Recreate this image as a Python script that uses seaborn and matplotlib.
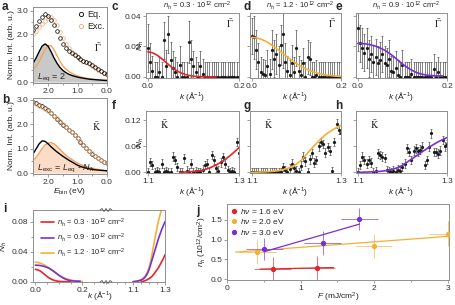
import numpy as np
import matplotlib
matplotlib.use("Agg")
import matplotlib.pyplot as plt
import seaborn as sns
from matplotlib.lines import Line2D
from matplotlib.colors import to_rgb
from matplotlib.ticker import MultipleLocator, FormatStrFormatter

# colours
RED = "#e3262b"
ORANGE = "#f2b134"
PURPLE = "#7a2fd4"
EXC = "#f0a86c"
EXC_LINE = "#f0a45c"
GREY_FILL = "#c9c9c9"
PEACH_FILL = "#fbdcc6"
SPINE = "#8f8f8f"

# ---- a / b : spectra, E_bin from 2.6 to 0.0 eV in 0.1 steps ----
e_bin = np.linspace(2.6, 0.0, 27)
a_eq = [2.05, 2.20, 2.35, 2.55, 2.72, 2.85, 2.78, 2.60, 2.40, 2.15, 1.85, 1.60, 1.42, 1.30,
        1.20, 1.12, 1.05, 0.97, 0.90, 0.84, 0.78, 0.70, 0.62, 0.55, 0.47, 0.40, 0.32]
a_exc = [1.90, 2.00, 2.15, 2.30, 2.45, 2.58, 2.70, 2.73, 2.60, 2.38, 2.10, 1.85, 1.60, 1.42,
         1.28, 1.16, 1.07, 0.98, 0.90, 0.83, 0.76, 0.68, 0.60, 0.52, 0.45, 0.38, 0.30]
a_fit_eq = [0.62, 0.80, 1.02, 1.28, 1.51, 1.60, 1.51, 1.28, 1.02, 0.80, 0.62, 0.49, 0.40, 0.33,
            0.28, 0.24, 0.21, 0.18, 0.16, 0.14, 0.12, 0.11, 0.10, 0.09, 0.08, 0.07, 0.065]
a_fit_exc = [0.43, 0.54, 0.68, 0.88, 1.12, 1.36, 1.53, 1.53, 1.36, 1.12, 0.88, 0.68, 0.55, 0.45,
             0.37, 0.31, 0.26, 0.22, 0.19, 0.16, 0.14, 0.12, 0.11, 0.095, 0.085, 0.075, 0.07]
b_eq = [2.98, 2.93, 2.87, 2.81, 2.75, 2.68, 2.58, 2.47, 2.35, 2.23, 2.10, 1.98, 1.87, 1.77,
        1.67, 1.56, 1.43, 1.29, 1.14, 1.01, 0.90, 0.79, 0.70, 0.61, 0.53, 0.47, 0.41]
b_exc = [2.93, 2.87, 2.82, 2.76, 2.70, 2.63, 2.55, 2.45, 2.35, 2.24, 2.12, 2.00, 1.89, 1.78,
         1.67, 1.55, 1.42, 1.30, 1.17, 1.04, 0.92, 0.81, 0.71, 0.62, 0.54, 0.46, 0.40]
b_fit_eq = [0.62, 0.80, 1.00, 1.20, 1.32, 1.30, 1.20, 1.08, 0.97, 0.87, 0.78, 0.69, 0.61, 0.53,
            0.46, 0.39, 0.32, 0.27, 0.23, 0.20, 0.17, 0.15, 0.13, 0.12, 0.11, 0.10, 0.09]
b_fit_exc = [0.42, 0.52, 0.65, 0.82, 1.00, 1.15, 1.23, 1.25, 1.20, 1.10, 0.98, 0.85, 0.74, 0.64,
             0.56, 0.48, 0.41, 0.35, 0.30, 0.26, 0.23, 0.20, 0.17, 0.15, 0.13, 0.11, 0.10]

# ---- c-h : momentum distributions ----
k_gamma = np.linspace(0.0, 0.2, 41)
k_kbar = np.linspace(1.1, 1.3, 41)
c_vals = [0.019, 0.010, 0.004, 0.0, 0.0, 0.003, 0.0, 0.024, 0.007, 0.028,
          0.011, 0.006, 0.003, 0.0, 0.008, 0.0, 0.0, 0.0, 0.023, 0.012,
          0.007, 0.003, 0.0, 0.007, 0.002, 0.0, 0.0, 0.0, 0.0, 0.0] + [0.0] * 11
c_err = [0.016, 0.012, 0.010, 0.010, 0.010, 0.010, 0.010, 0.012, 0.011, 0.012,
         0.012, 0.011, 0.010, 0.010, 0.012, 0.010, 0.010, 0.010, 0.014, 0.012] + [0.010] * 21
d_vals = [0.027, 0.026, 0.018, 0.010, 0.003, 0.002, 0.001, 0.007, 0.002, 0.018,
          0.012, 0.015, 0.008, 0.021, 0.028, 0.010, 0.004, 0.001, 0.009, 0.003,
          0.019, 0.004, 0.001, 0.009, 0.0, 0.013, 0.012, 0.0, 0.0, 0.001] + [0.0] * 11
d_err = [0.012, 0.014, 0.013, 0.012, 0.010, 0.010, 0.010, 0.011, 0.010, 0.013,
         0.012, 0.013, 0.012, 0.013, 0.022, 0.012, 0.010, 0.010, 0.012, 0.010,
         0.012, 0.010, 0.010, 0.010, 0.010, 0.011, 0.011, 0.010, 0.010, 0.010] + [0.010] * 11
e_vals = [0.032, 0.022, 0.019, 0.016, 0.019, 0.012, 0.015, 0.010, 0.013, 0.009,
          0.011, 0.015, 0.009, 0.008, 0.012, 0.004, 0.003, 0.006, 0.001, 0.0,
          0.008, 0.0, 0.0, 0.0, 0.002, 0.0, 0.0, 0.0, 0.0, 0.0,
          0.0, 0.0, 0.0, 0.0, 0.005, 0.0, 0.003, 0.0, 0.0, 0.0, 0.0]
e_err = [0.015, 0.012, 0.013, 0.012, 0.013, 0.012, 0.012, 0.011, 0.012, 0.011,
         0.012, 0.012, 0.011, 0.011, 0.012, 0.010, 0.010, 0.011, 0.010, 0.010] + [0.010] * 21
f_vals = [0.0, 0.024, 0.017, 0.0, 0.003, 0.0, 0.020, 0.0, 0.002, 0.0,
          0.0, 0.036, 0.028, 0.012, 0.0, 0.0, 0.032, 0.004, 0.0, 0.020,
          0.0, 0.002, 0.0, 0.0, 0.006, 0.017, 0.020, 0.0, 0.040, 0.028,
          0.010, 0.004, 0.023, 0.035, 0.020, 0.005, 0.0, 0.002, 0.0, 0.070, 0.045]
g_vals = [0.0] * 10 + [
          0.0, 0.0, 0.0, 0.0, 0.012, 0.005, 0.0, 0.008, 0.020, 0.010,
          0.004, 0.0, 0.015, 0.036, 0.025, 0.0, 0.030, 0.044, 0.022, 0.028,
          0.060, 0.070, 0.065, 0.045, 0.058, 0.050, 0.002, 0.070, 0.112, 0.098, 0.090]
h_vals = [0.0, 0.017, 0.036, 0.028, 0.020, 0.028, 0.022, 0.0, 0.002, 0.044,
          0.040, 0.036, 0.033, 0.005, 0.002, 0.0, 0.004, 0.0, 0.006, 0.002,
          0.012, 0.020, 0.055, 0.047, 0.028, 0.050, 0.055, 0.048, 0.052, 0.059,
          0.017, 0.028, 0.059, 0.090, 0.047, 0.047, 0.043, 0.050, 0.074, 0.060, 0.064]
kbar_err = [0.010] * 41

# fits, 0.01 steps
k_fit_gamma = np.linspace(0.0, 0.2, 21)
k_fit_kbar = np.linspace(1.1, 1.3, 21)
c_fit = [0.0165, 0.0159, 0.0144, 0.0121, 0.0095, 0.0069, 0.0047, 0.0030, 0.0018, 0.0010,
         0.0005, 0.0002, 0.0001, 0.0, 0.0, 0.0]
d_fit = [0.0260, 0.0257, 0.0249, 0.0236, 0.0219, 0.0198, 0.0176, 0.0153, 0.0130, 0.0108,
         0.0088, 0.0070, 0.0055, 0.0042, 0.0031, 0.0023, 0.0016, 0.0011, 0.0008, 0.0005, 0.0003]
e_fit = [0.0220, 0.0219, 0.0216, 0.0210, 0.0202, 0.0190, 0.0176, 0.0157, 0.0135, 0.0110,
         0.0086, 0.0064, 0.0046, 0.0031, 0.0021, 0.0014, 0.0010, 0.0008, 0.0007, 0.0007]
f_fit = [0.0, 0.0005, 0.001, 0.002, 0.003, 0.005, 0.008, 0.012, 0.017, 0.023, 0.030, 0.038, 0.047, 0.057]
g_fit = [0.0, 0.0003, 0.0006, 0.001, 0.0017, 0.0025, 0.004, 0.006, 0.009, 0.013, 0.019,
         0.027, 0.038, 0.050, 0.061, 0.072, 0.082, 0.090, 0.097, 0.103, 0.108]
h_fit = [0.0, 0.0002, 0.0005, 0.001, 0.0015, 0.0022, 0.0033, 0.005, 0.0075, 0.011, 0.016,
         0.023, 0.030, 0.037, 0.044, 0.051, 0.058, 0.064, 0.070, 0.075, 0.080]
i_red_kbar = [0.0, 0.0004, 0.001, 0.0018, 0.0028, 0.004, 0.0055, 0.0075, 0.010, 0.013,
              0.016, 0.019, 0.023, 0.027, 0.031, 0.036]

# ---- j : density vs fluence ----
j_labels = [r"$h\nu$ = 1.6 eV", r"$h\nu$ = 2.0 eV", r"$h\nu$ = 3.0 eV"]
j_F = [[0.62, 1.22], [0.41, 2.0, 3.0], [0.51, 1.30, 1.80]]
j_n = [[0.25, 0.28], [0.69, 0.83, 1.15], [0.76, 0.91, 1.52]]
j_xerr = [[0.25, 0.25], [0.25, 0.25, 0.25], [0.25, 0.25, 0.25]]
j_yerr = [[0.31, 0.31], [0.30, 0.31, 0.31], [0.27, 0.30, 0.29]]
j_fit_F = [[0.45, 1.45], [0.12, 3.0], [0.52, 1.80]]
j_fit_n = [[0.25, 0.29], [0.68, 1.08], [0.70, 1.39]]
j_colors = [RED, ORANGE, PURPLE]

sns.set_theme(style="ticks")
plt.rcParams["font.family"] = ["Liberation Sans", "DejaVu Sans"]
plt.rcParams.update({
    "font.size": 6,
    "axes.labelsize": 6,
    "xtick.labelsize": 6,
    "ytick.labelsize": 6,
    "axes.labelcolor": "#222222",
    "xtick.labelcolor": "#333333",
    "ytick.labelcolor": "#333333",
    "mathtext.fontset": "custom",
    "mathtext.rm": "Liberation Sans",
    "mathtext.it": "Liberation Sans:italic",
    "mathtext.bf": "Liberation Sans:bold",
})

W, H = 455, 305
fig = plt.figure(figsize=(W / 100, H / 100), dpi=100)


def px_axes(l, t, r, b):
    return fig.add_axes([l / W, 1 - b / H, (r - l) / W, (b - t) / H])


def style(ax):
    ax.tick_params(which="both", top=False, right=False, direction="out",
                   width=0.6, pad=1.2, color=SPINE)
    ax.tick_params(which="major", length=2.2)
    ax.tick_params(which="minor", length=1.3)
    for s in ax.spines.values():
        s.set_linewidth(0.7)
        s.set_color(SPINE)


def bar_text(ax, x, y, letter):
    ax.text(x, y, r"$\bar{\mathrm{%s}}$" % letter, transform=ax.transAxes,
            fontsize=7, ha="center", va="center", math_fontfamily="stix")


def panel_label(x, y, s):
    fig.text(x / W, 1 - y / H, s, fontsize=8.5, fontweight="bold", va="top", ha="left")


def nh_title(ax, s):
    ax.text(0.55, 1.015, r"$n_h$ = %s · 10$^{12}$ cm$^{-2}$" % s, transform=ax.transAxes,
            ha="center", va="bottom", fontsize=5.5)


# ---------- a ----------
ax = px_axes(33, 7, 107, 83)
style(ax)
ax.fill_between(e_bin, a_fit_eq, color=GREY_FILL, lw=0)
sns.lineplot(x=e_bin, y=a_fit_exc, ax=ax, color=EXC_LINE, lw=1.0)
sns.lineplot(x=e_bin, y=a_fit_eq, ax=ax, color="black", lw=1.0)
ax.plot(e_bin, a_exc, "o", mfc="none", mec=EXC, ms=2.6, mew=0.5)
ax.plot(e_bin, a_eq, "o", mfc="none", mec="black", ms=2.6, mew=0.5)
ax.set_xlim(2.51, 0.0)
ax.set_ylim(-0.04, 3.15)
ax.xaxis.set_major_locator(MultipleLocator(1.0))
ax.xaxis.set_minor_locator(MultipleLocator(0.5))
ax.yaxis.set_major_locator(MultipleLocator(1.0))
ax.yaxis.set_minor_locator(MultipleLocator(0.5))
ax.xaxis.set_major_formatter(FormatStrFormatter("%.1f"))
ax.yaxis.set_major_formatter(FormatStrFormatter("%.1f"))
ax.set_ylabel("Norm. Int. (arb. u.)", labelpad=1)
handles = [Line2D([], [], ls="", marker="o", mfc="none", mec="black", ms=3, mew=0.6),
           Line2D([], [], ls="", marker="o", mfc="none", mec=EXC, ms=3, mew=0.6)]
ax.legend(handles, ["Eq.", "Exc."], loc="upper right", frameon=False, fontsize=6.5,
          handletextpad=0.1, handlelength=1.0, labelspacing=0.35, borderpad=0.2,
          borderaxespad=0.1)
bar_text(ax, 0.88, 0.47, r"\Gamma")
ax.text(0.06, 0.05, r"$L_{\rm eq}$ = 2", transform=ax.transAxes, fontsize=6.5)

# ---------- b ----------
ax = px_axes(33, 98, 107, 174)
style(ax)
ax.fill_between(e_bin, b_fit_exc, color=PEACH_FILL, lw=0)
sns.lineplot(x=e_bin, y=b_fit_exc, ax=ax, color=EXC_LINE, lw=1.0)
sns.lineplot(x=e_bin, y=b_fit_eq, ax=ax, color="black", lw=1.0)
ax.plot(e_bin, b_eq, "o", mfc="none", mec="black", ms=2.6, mew=0.5)
ax.plot(e_bin, b_exc, "o", mfc="none", mec=EXC, ms=2.6, mew=0.5)
ax.set_xlim(2.51, 0.0)
ax.set_ylim(-0.04, 3.08)
ax.xaxis.set_major_locator(MultipleLocator(1.0))
ax.xaxis.set_minor_locator(MultipleLocator(0.5))
ax.yaxis.set_major_locator(MultipleLocator(1.0))
ax.yaxis.set_minor_locator(MultipleLocator(0.5))
ax.xaxis.set_major_formatter(FormatStrFormatter("%.1f"))
ax.yaxis.set_major_formatter(FormatStrFormatter("%.1f"))
ax.set_ylabel("Norm. Int. (arb. u.)", labelpad=1)
ax.set_xlabel(r"$E_{\rm bin}$ (eV)", labelpad=0.5)
bar_text(ax, 0.865, 0.62, "K")
ax.text(0.05, 0.04, r"$L_{\rm exc}$ = $L_{\rm eq}$ - $N_h$", transform=ax.transAxes, fontsize=6.5)


# ---------- c-h ----------
def mom_panel(rect, k, vals, errs, fk, fv, color, gamma, first):
    ax = px_axes(*rect)
    style(ax)
    ax.errorbar(k, vals, yerr=errs, fmt="o", ms=1.3, color="#1a1a1a", ecolor="#3a3a3a",
                elinewidth=0.45, capsize=1.0, capthick=0.45, zorder=2)
    sns.lineplot(x=fk[:len(fv)], y=fv, ax=ax, color=color, lw=1.2, zorder=3)
    if gamma:
        ax.set_xlim(-0.004, 0.2)
        ax.set_ylim(-0.0007, 0.042)
        ax.set_xticks([0.0, 0.2])
        ax.set_yticks([0.0, 0.02, 0.04])
        bar_text(ax, 0.9, 0.84, r"\Gamma")
    else:
        ax.set_xlim(1.096, 1.3)
        ax.set_ylim(-0.0016, 0.141)
        ax.set_xticks([1.1, 1.3])
        ax.set_yticks([0.0, 0.06, 0.12])
        bar_text(ax, 0.2, 0.78, "K")
    ax.yaxis.set_major_formatter(FormatStrFormatter("%.2f"))
    ax.xaxis.set_major_formatter(FormatStrFormatter("%.1f"))
    ax.set_xlabel(r"$k$ (Å$^{-1}$)", labelpad=0.5)
    if first:
        ax.set_ylabel(r"$N_h$")
        ax.yaxis.set_label_coords(-0.005, 0.5)
    else:
        ax.tick_params(labelleft=False)
    return ax


ax = mom_panel((146, 13, 239, 78), k_gamma, c_vals, c_err, k_fit_gamma, c_fit, RED, True, True)
nh_title(ax, "0.3")
ax = mom_panel((250, 13, 341, 78), k_gamma, d_vals, d_err, k_fit_gamma, d_fit, ORANGE, True, False)
nh_title(ax, "1.2")
ax = mom_panel((356, 13, 447, 78), k_gamma, e_vals, e_err, k_fit_gamma, e_fit, PURPLE, True, False)
nh_title(ax, "0.9")

mom_panel((146, 111, 239, 173), k_kbar, f_vals, kbar_err, k_fit_kbar[7:], f_fit, RED, False, True)
mom_panel((250, 111, 341, 173), k_kbar, g_vals, kbar_err, k_fit_kbar, g_fit, ORANGE, False, False)
mom_panel((356, 111, 447, 173), k_kbar, h_vals, kbar_err, k_fit_kbar, h_fit, PURPLE, False, False)

# ---------- i (broken axis) ----------
axl = px_axes(33, 210, 106, 282)
axr = px_axes(106, 210, 165, 282)
for a in (axl, axr):
    style(a)
    a.set_ylim(-0.0004, 0.0956)
axl.spines["right"].set_visible(False)
axr.spines["left"].set_visible(False)
axr.patch.set_alpha(0)
axr.tick_params(which="both", left=False, labelleft=False)
sns.lineplot(x=k_fit_gamma[:len(d_fit)], y=d_fit, ax=axl, color=ORANGE, lw=1.2)
sns.lineplot(x=k_fit_gamma[:len(e_fit)], y=e_fit, ax=axl, color=PURPLE, lw=1.2)
sns.lineplot(x=k_fit_gamma[:len(c_fit)], y=c_fit, ax=axl, color=RED, lw=1.2)
sns.lineplot(x=k_fit_kbar, y=g_fit, ax=axr, color=ORANGE, lw=1.2)
sns.lineplot(x=k_fit_kbar, y=h_fit, ax=axr, color=PURPLE, lw=1.2)
sns.lineplot(x=k_fit_kbar[5:], y=i_red_kbar, ax=axr, color=RED, lw=1.2)
axl.set_xlim(-0.01, 0.3)
axr.set_xlim(0.93, 1.3)
axl.set_xticks([0.0, 0.2])
axl.xaxis.set_minor_locator(MultipleLocator(0.05))
axr.set_xticks([1.1, 1.3])
axr.set_xticks([1.0, 1.05, 1.15, 1.2, 1.25], minor=True)
axl.xaxis.set_major_formatter(FormatStrFormatter("%.1f"))
axr.xaxis.set_major_formatter(FormatStrFormatter("%.1f"))
axl.set_yticks([0.0, 0.04, 0.08])
axl.yaxis.set_minor_locator(MultipleLocator(0.02))
axl.yaxis.set_major_formatter(FormatStrFormatter("%.2f"))
axl.set_ylabel(r"$N_h$", labelpad=2)
fig.text(100 / W, 1 - 296 / H, r"$k$ (Å$^{-1}$)", ha="center", va="center", fontsize=6)
for yy in (210, 282):
    zx = [100, 102, 104, 106, 108, 110, 112]
    zy = [yy + d for d in (0, -1.5, 1.5, -1.5, 1.5, -1.5, 0)]
    fig.add_artist(Line2D([x / W for x in zx], [1 - y / H for y in zy],
                          transform=fig.transFigure, color="#555555", lw=0.6))
i_handles = [Line2D([], [], color=c, lw=1.2) for c in (RED, PURPLE, ORANGE)]
i_labels = [r"$n_h$ = 0.3 · 10$^{12}$ cm$^{-2}$", r"$n_h$ = 0.9 · 10$^{12}$ cm$^{-2}$",
            r"$n_h$ = 1.2 · 10$^{12}$ cm$^{-2}$"]
fig.legend(i_handles, i_labels, loc="upper left", bbox_to_anchor=(36 / W, 1 - 211 / H),
           frameon=False, fontsize=5.5, handlelength=1.6, handletextpad=0.5,
           labelspacing=0.35, borderpad=0.2)

# ---------- j ----------
ax = px_axes(227, 204, 449, 280)
style(ax)
for F, n, xe, ye, fF, fn, c in zip(j_F, j_n, j_xerr, j_yerr, j_fit_F, j_fit_n, j_colors):
    sns.lineplot(x=fF, y=fn, ax=ax, color=c, lw=0.9, zorder=2)
    ax.errorbar(F, n, xerr=xe, yerr=ye, fmt="o", ms=2.8, color=c,
                ecolor=(*to_rgb(c), 0.65), elinewidth=0.7, capsize=0, zorder=3)
ax.set_xlim(0, 3.02)
ax.set_ylim(-0.025, 1.9)
ax.xaxis.set_major_locator(MultipleLocator(1))
ax.xaxis.set_minor_locator(MultipleLocator(0.5))
ax.yaxis.set_major_locator(MultipleLocator(0.5))
ax.yaxis.set_major_formatter(FormatStrFormatter("%.1f"))
ax.set_xlabel(r"$F$ (mJ/cm$^2$)", labelpad=-0.5)
ax.set_ylabel(r"$n_h$ (10$^{12}$/cm$^2$)", labelpad=1)
j_handles = [Line2D([], [], ls="", marker="o", ms=2.8, color=c) for c in j_colors]
ax.legend(j_handles, j_labels, loc="upper left", frameon=False, fontsize=6,
          handletextpad=0.3, handlelength=1.0, labelspacing=0.2, borderpad=0.1,
          borderaxespad=0.2)

panel_label(2, 1, "a")
panel_label(2, 94, "b")
panel_label(112, 1, "c")
panel_label(244, 1, "d")
panel_label(335, 1, "e")
panel_label(112, 100, "f")
panel_label(244, 100, "g")
panel_label(335, 100, "h")
panel_label(3, 203, "i")
panel_label(196, 205, "j")

fig.savefig("out.png", dpi=100)
